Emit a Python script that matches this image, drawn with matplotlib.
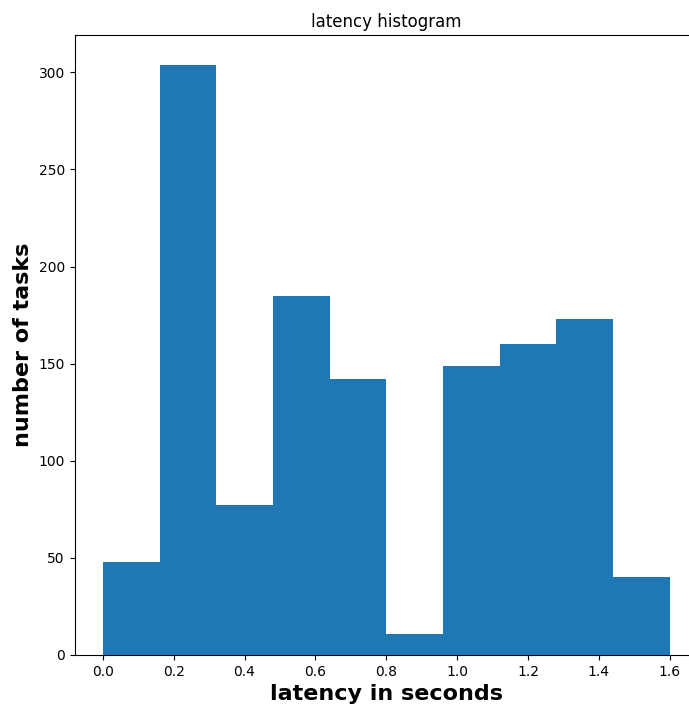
import matplotlib
matplotlib.use('Agg')
import numpy as np
import matplotlib.pyplot as plt

# bin edges and counts
bin_edges = np.linspace(0.0, 1.6, 11)
counts = [48, 304, 77, 185, 142, 11, 149, 160, 173, 40]

fig = plt.figure(figsize=(6.89, 7.04), dpi=100)
# axes spills past the right edge, like the cropped original
ax = fig.add_axes([74.5 / 689, 49 / 704, 623.5 / 689, 620 / 704])

ax.hist(bin_edges[:-1], bins=bin_edges, weights=counts, color='#1f77b4',
        histtype='stepfilled')

ax.set_title('latency histogram', fontsize=12)
ax.set_xlabel('latency in seconds', fontsize=16, fontweight='bold')
ax.set_ylabel('number of tasks', fontsize=16, fontweight='bold')

fig.savefig('out.png', dpi=100)
